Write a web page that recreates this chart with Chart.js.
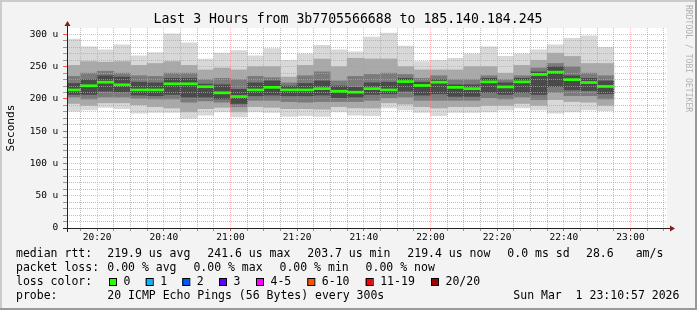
<!DOCTYPE html>
<html>
<head>
<meta charset="utf-8">
<script src="https://cdn.jsdelivr.net/npm/chart.js@4/dist/chart.umd.min.js"></script>
<style>
  html, body { margin: 0; padding: 0; background: #f3f3f3; }
  #wrap { width: 697px; height: 310px; }
</style>
</head>
<body>
<div id="wrap"><canvas id="smoke" width="697" height="310"></canvas></div>
<script>
// 5 minute steps, each label is the end of the step
const steps = ["20:15", "20:20", "20:25", "20:30", "20:35", "20:40", "20:45", "20:50", "20:55", "21:00", "21:05",
  "21:10", "21:15", "21:20", "21:25", "21:30", "21:35", "21:40", "21:45", "21:50", "21:55", "22:00",
  "22:05", "22:10", "22:15", "22:20", "22:25", "22:30", "22:35", "22:40", "22:45", "22:50", "22:55"];

// smoke bands, in microseconds (outer -> inner)
const smokeMin  = [181, 183, 187, 185, 178, 179, 179, 170, 175, 180, 172, 180, 179, 173, 174, 173, 180, 175, 174, 186, 183, 179, 174, 179, 179, 180, 183, 186, 183, 178, 180, 183, 182];
const smokeMax  = [293, 281, 276, 284, 267, 272, 301, 287, 262, 271, 275, 267, 278, 260, 270, 283, 276, 273, 296, 302, 282, 258, 260, 263, 270, 281, 266, 270, 276, 284, 294, 298, 280];
const smokeLow2 = [193, 190, 194, 194, 191, 188, 186, 180, 185, 187, 180, 188, 187, 185, 185, 184, 188, 186, 186, 194, 192, 188, 186, 188, 188, 190, 190, 193, 190, 199, 196, 195, 190];
const smokeHigh2 = [252, 258, 257, 258, 252, 255, 258, 252, 245, 248, 245, 250, 250, 234, 252, 262, 250, 263, 262, 262, 250, 245, 245, 245, 250, 250, 240, 252, 260, 271, 266, 255, 255];
const smokeLow3 = [203, 200, 203, 203, 201, 200, 200, 195, 197, 195, 188, 198, 198, 196, 195, 196, 196, 196, 198, 202, 203, 198, 198, 198, 198, 202, 200, 203, 199, 210, 205, 205, 200];
const smokeHigh3 = [235, 240, 243, 240, 236, 235, 240, 240, 230, 232, 230, 235, 233, 225, 236, 242, 228, 235, 238, 240, 238, 232, 236, 230, 230, 236, 230, 236, 248, 255, 250, 240, 236];
const smokeLow4 = [207, 207, 212, 211, 206, 205, 207, 203, 203, 200, 193, 205, 206, 205, 205, 206, 202, 203, 207, 208, 212, 206, 208, 204, 204, 210, 207, 210, 207, 219, 214, 213, 208];
const smokeHigh4 = [224, 230, 236, 234, 226, 225, 232, 232, 223, 222, 215, 225, 228, 220, 224, 228, 220, 218, 225, 226, 232, 226, 230, 222, 222, 232, 225, 232, 242, 250, 236, 232, 228];
const medianRtt = [214, 220.5, 226, 222, 214, 214, 223.5, 223.5, 219, 209.5, 203.7, 214, 218, 214, 214, 216, 212, 210.5, 216, 214, 227, 221, 226, 218, 216, 226.5, 218.7, 226.5, 238, 241.6, 230, 225.5, 219.4];

const bandColors = ["#d8d8d8", "#a9a9a9", "#7b7b7b", "#4a4a4a"];
const lossColors = [["0", "#26ff00"], ["1", "#00b8ff"], ["2", "#0059ff"], ["3", "#5e00ff"],
  ["4-5", "#ff00ff"], ["6-10", "#ff5500"], ["11-19", "#ff0000"], ["20/20", "#a10000"]];

const rttLegend = ["219.9 us avg", "241.6 us max", "203.7 us min", "219.4 us now", "0.0 ms sd", "28.6", "am/s"];
const lossLegend = ["0.00 % avg", "0.00 % max", "0.00 % min", "0.00 % now"];

const MONO = '"DejaVu Sans Mono", "Liberation Mono", monospace';
const minorGrid = "rgba(170,170,170,0.75)";
const majorGrid = "rgba(255,120,120,0.55)";

// minutes after 20:00
function toMinutes(hhmm) {
  const [h, m] = hhmm.split(":").map(Number);
  return (h - 20) * 60 + m;
}
function clockLabel(v) {
  const h = 20 + Math.floor(v / 60);
  const m = v % 60;
  return h + ":" + String(m).padStart(2, "0");
}

function band(lo, hi, color, order) {
  return {
    data: steps.map((s, i) => ({ x: toMinutes(s) - 2.5, y: [lo[i], hi[i]] })),
    backgroundColor: color,
    borderWidth: 0,
    grouped: false,
    barPercentage: 1,
    categoryPercentage: 1,
    order: order,
    clip: 0,
  };
}

const datasets = [
  band(smokeMin, smokeMax, bandColors[0], 5),
  band(smokeLow2, smokeHigh2, bandColors[1], 4),
  band(smokeLow3, smokeHigh3, bandColors[2], 3),
  band(smokeLow4, smokeHigh4, bandColors[3], 2),
  band(medianRtt.map((m) => m - 1.6), medianRtt.map((m) => m + 1.6), lossColors[0][1], 1),
];

const frame = {
  id: "frame",
  beforeDraw(chart) {
    const { ctx, chartArea: a } = chart;
    ctx.save();
    ctx.fillStyle = "#f3f3f3";
    ctx.fillRect(0, 0, chart.width, chart.height);
    ctx.fillStyle = "#cbcbcb";
    ctx.fillRect(0, 0, chart.width, 2);
    ctx.fillRect(0, 0, 2, chart.height);
    ctx.fillStyle = "#999999";
    ctx.fillRect(0, chart.height - 2, chart.width, 2);
    ctx.fillRect(chart.width - 2, 0, 2, chart.height);
    ctx.fillStyle = "#ffffff";
    ctx.fillRect(a.left, a.top, a.right - a.left, a.bottom - a.top);
    ctx.restore();
  },
  afterDraw(chart) {
    const { ctx, chartArea: a } = chart;
    ctx.save();

    // axis stubs and arrows
    ctx.strokeStyle = "#222";
    ctx.lineWidth = 1;
    ctx.beginPath();
    ctx.moveTo(a.left - 4, a.bottom + 0.5);
    ctx.lineTo(a.right + 3, a.bottom + 0.5);
    ctx.moveTo(a.left + 0.5, a.bottom + 4);
    ctx.lineTo(a.left + 0.5, a.top - 3);
    ctx.stroke();
    ctx.fillStyle = "#7f1f1f";
    ctx.beginPath();
    ctx.moveTo(a.left + 0.5, a.top - 7);
    ctx.lineTo(a.left - 2.5, a.top - 2);
    ctx.lineTo(a.left + 3.5, a.top - 2);
    ctx.fill();
    ctx.beginPath();
    ctx.moveTo(a.right + 8, a.bottom + 0.5);
    ctx.lineTo(a.right + 3, a.bottom - 2.5);
    ctx.lineTo(a.right + 3, a.bottom + 3.5);
    ctx.fill();

    // title
    ctx.fillStyle = "#000";
    ctx.textBaseline = "middle";
    ctx.textAlign = "center";
    ctx.font = "13.2px " + MONO;
    ctx.fillText("Last 3 Hours from 3b7705566688 to 185.140.184.245", 348, 19.5);

    // watermark
    ctx.save();
    ctx.translate(688.5, 5);
    ctx.rotate(Math.PI / 2);
    ctx.textAlign = "left";
    ctx.fillStyle = "#b0b0b0";
    ctx.font = "8.1px " + MONO;
    ctx.fillText("RRDTOOL / TOBI OETIKER", 0, 0);
    ctx.restore();

    // legend
    ctx.textAlign = "left";
    ctx.fillStyle = "#000";
    ctx.font = "11.5px " + MONO;
    ctx.fillText("median rtt:", 16, 254.3);
    const rttX = [107.3, 207.3, 307.3, 407.3, 507.3, 586, 635.7];
    rttLegend.forEach((t, i) => ctx.fillText(t, rttX[i], 254.3));

    ctx.fillText("packet loss:", 16, 268.3);
    lossLegend.forEach((t, i) => ctx.fillText(t, 107.3 + i * 86.1, 268.3));

    ctx.fillText("loss color:", 16, 282.3);
    const boxX = [109, 145.7, 182.3, 219, 256, 307.3, 365.7, 431];
    lossColors.forEach(([label, color], i) => {
      ctx.fillStyle = color;
      ctx.fillRect(boxX[i], 278.5, 7, 7);
      ctx.strokeStyle = "#000";
      ctx.strokeRect(boxX[i] + 0.5, 278.5, 7, 7);
      ctx.fillStyle = "#000";
      ctx.fillText(label, boxX[i] + 14.5, 282.3);
    });

    ctx.fillText("probe:", 16, 295.7);
    ctx.fillText("20 ICMP Echo Pings (56 Bytes) every 300s", 107.3, 295.7);
    ctx.fillText("Sun Mar  1 23:10:57 2026", 513.3, 295.7);
    ctx.restore();
  },
};

new Chart(document.getElementById("smoke"), {
  type: "bar",
  data: { datasets: datasets },
  options: {
    responsive: false,
    animation: false,
    events: [],
    layout: { padding: { top: 28, right: 30, left: 0, bottom: 0 } },
    plugins: {
      legend: { display: false },
      tooltip: { enabled: false },
      title: { display: false },
    },
    scales: {
      x: {
        type: "linear",
        min: 10.95,
        max: 190.95,
        offset: false,
        afterFit: (scale) => { scale.height = 82; },
        afterBuildTicks: (scale) => {
          const ticks = [];
          for (let v = 15; v <= 190; v += 5) ticks.push({ value: v });
          scale.ticks = ticks;
        },
        grid: {
          offset: false,
          z: 1,
          color: (c) => (c.tick && c.tick.value % 20 === 0 ? majorGrid : minorGrid),
          tickColor: (c) => (c.tick && c.tick.value % 20 === 0 ? "#ff5050" : "#999"),
          tickLength: 3,
        },
        border: { display: false, dash: [1, 1] },
        ticks: {
          autoSkip: false,
          maxRotation: 0,
          padding: 0.5,
          color: "#000",
          font: { family: MONO, size: 9.5 },
          callback: (v) => (v % 20 === 0 ? clockLabel(v) : ""),
        },
      },
      y: {
        min: 0,
        max: 310,
        stacked: false,
        afterFit: (scale) => { scale.width = 67; },
        afterBuildTicks: (scale) => {
          const ticks = [];
          for (let v = 0; v <= 300; v += 10) ticks.push({ value: v });
          scale.ticks = ticks;
        },
        grid: {
          z: 1,
          color: (c) => {
            if (!c.tick || c.tick.value === 0) return "rgba(0,0,0,0)";
            return c.tick.value % 50 === 0 ? majorGrid : minorGrid;
          },
          tickColor: (c) => (c.tick && c.tick.value % 50 === 0 ? "#ff5050" : "#999"),
          tickLength: 4,
        },
        border: { display: false, dash: [1, 1] },
        title: {
          display: true,
          text: "Seconds",
          color: "#000",
          font: { family: MONO, size: 11.1 },
          padding: { top: 4.3, bottom: 0 },
        },
        ticks: {
          autoSkip: false,
          padding: 4.7,
          color: "#000",
          font: { family: MONO, size: 9.5 },
          callback: (v) => (v % 50 === 0 ? (v === 0 ? "0" : v + " u") : ""),
        },
      },
    },
  },
  plugins: [frame],
});
</script>
</body>
</html>
